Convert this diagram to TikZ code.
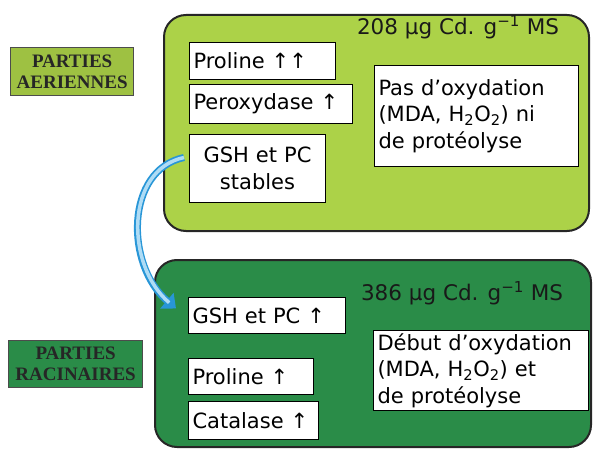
\documentclass[tikz,border=0pt]{standalone}
\usepackage{fontspec}
\setmainfont{DejaVu Sans}
\newfontfamily\labelfont{Liberation Serif}
\usetikzlibrary{arrows.meta,calc}
\definecolor{topgreen}{RGB}{172,210,72}
\definecolor{botgreen}{RGB}{42,140,72}
\definecolor{arrowblue}{RGB}{40,150,215}
\definecolor{arrowlight}{RGB}{175,220,245}
\tikzset{
  bigbox/.style={draw=black!85,line width=2pt,rounded corners=22pt},
  inbox/.style={draw=black,fill=white,line width=1pt,anchor=north west,inner sep=4pt,
    font=\fontsize{21}{26.5}\selectfont},
  sidelabel/.style={draw=black!70,line width=1.3pt,anchor=north west,inner sep=0pt,
    align=center,font=\labelfont\bfseries\fontsize{19}{21}\selectfont,text=black!85},
  heading/.style={font=\fontsize{21.5}{24}\selectfont,text=black!90},
}
\begin{document}
\begin{tikzpicture}[x=1pt,y=-1pt]
\useasboundingbox (0,0) rectangle (593,449);
% big boxes
\draw[bigbox,fill=topgreen] (164,15) rectangle (589,231);
\draw[bigbox,fill=botgreen] (155,260) rectangle (591,447);
% side labels
\node[sidelabel,fill=topgreen!92!black,minimum width=123pt,minimum height=48pt] (aer) at (10,47) {PARTIES\\AERIENNES};
\node[sidelabel,fill=botgreen,minimum width=134pt,minimum height=47pt] (rac) at (8,340) {PARTIES\\RACINAIRES};
% headings
\node[heading] (h1) at (458,27) {208 µg Cd. g\textsuperscript{−1} MS};
\node[heading] (h2) at (462,293) {386 µg Cd. g\textsuperscript{−1} MS};
% top inner boxes
\node[inbox,minimum width=146pt,minimum height=37pt,text width=138pt,align=left] (p1) at (189,42) {Proline ↑↑};
\node[inbox,minimum width=163pt,minimum height=39pt,text width=155pt,align=left] (px) at (189,84) {Peroxydase ↑};
\node[inbox,minimum width=136pt,minimum height=68pt,text width=128pt,align=center] (gs) at (189,134) {GSH et PC\\stables};
\node[inbox,minimum width=204pt,minimum height=101pt,text width=196pt,align=left] (pas) at (374,65) {Pas d'oxydation\\(MDA, H\textsubscript{2}O\textsubscript{2}) ni\\de protéolyse};
% bottom inner boxes
\node[inbox,minimum width=157pt,minimum height=36pt,text width=149pt,align=left] (gb) at (188,297) {GSH et PC ↑};
\node[inbox,minimum width=125pt,minimum height=36pt,text width=117pt,align=left] (p2) at (188,358) {Proline ↑};
\node[inbox,minimum width=130pt,minimum height=38pt,text width=122pt,align=left] (ca) at (188,401) {Catalase ↑};
\node[inbox,minimum width=215pt,minimum height=68pt,text width=207pt,align=left,inner sep=3pt] (deb) at (373,330) {Début d'oxydation\\(MDA, H\textsubscript{2}O\textsubscript{2}) et\\de protéolyse};
% curved arrow
\coordinate (as) at ($(gs.west)+(-5,-11)$);
\coordinate (ae) at ($(gb.west)+(-12,-7)$);
\draw[arrowblue,line width=7pt,-{Triangle[length=12pt,width=20pt]}] (as) .. controls (125,170) and (125,265) .. (ae);
\draw[arrowlight,line width=3.5pt,shorten >=9pt] (as) .. controls (125,170) and (125,265) .. (ae);
\end{tikzpicture}
\end{document}
